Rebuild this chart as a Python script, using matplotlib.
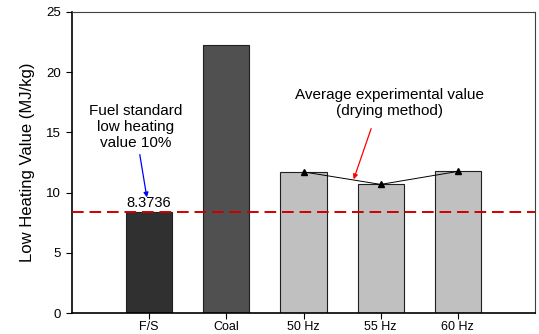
import matplotlib.pyplot as plt
import numpy as np

plt.rcParams['font.family'] = ['Liberation Sans', 'DejaVu Sans']

labels = ['F/S', 'Coal', '50 Hz', '55 Hz', '60 Hz']
values = [8.3736, 22.25, 11.72, 10.68, 11.76]
colors = ['#303030', '#505050', '#c0c0c0', '#c0c0c0', '#c0c0c0']
standard = 8.3736

fig = plt.figure(figsize=(5.39, 3.34), dpi=100)
ax = fig.add_axes([72/539, 1-313/334, (535-72)/539, (313-12)/334])

x = np.arange(1, len(labels)+1)
ax.bar(x, values, width=0.6, color=colors, edgecolor='#202020', linewidth=0.8, zorder=2)

# experimental average markers
ax.plot(x[2:], values[2:], color='black', linewidth=0.7, marker='^', markersize=5, zorder=3)

ax.axhline(standard, color='#cc0000', linestyle=(0, (6, 3)), linewidth=1.4, zorder=4)

ax.set_xlim(0, 6)
ax.set_ylim(0, 25)
ax.set_xticks(x)
ax.set_xticklabels(labels, fontsize=9)
ax.set_yticks(np.arange(0, 26, 5))
ax.tick_params(axis='y', labelsize=9.5, direction='out', length=4, pad=4)
ax.tick_params(axis='x', direction='out', length=4, pad=2)
ax.set_ylabel('Low Heating Value (MJ/kg)', fontsize=12, labelpad=8)

for s in ['top', 'right']:
    ax.spines[s].set_color('#404040')
    ax.spines[s].set_linewidth(0.8)
ax.spines['bottom'].set_linewidth(1.2)
ax.spines['left'].set_linewidth(1.2)

ax.text(1, standard + 0.15, '8.3736', ha='center', va='bottom', fontsize=10.5)

ax.annotate('Fuel standard\nlow heating\nvalue 10%', xy=(0.97, 9.6), xytext=(0.82, 13.5),
            ha='center', va='bottom', fontsize=11, linespacing=1.2,
            arrowprops=dict(arrowstyle='-|>', color='blue', lw=0.9,
                            mutation_scale=7, shrinkA=1, shrinkB=0))

ax.annotate('Average experimental value\n(drying method)', xy=(3.65, 11.1), xytext=(4.12, 16.2),
            ha='center', va='bottom', fontsize=11, linespacing=1.2,
            arrowprops=dict(arrowstyle='-|>', color='red', lw=0.9,
                            mutation_scale=7, shrinkA=6, shrinkB=0,
                            relpos=(0.42, 0)))

fig.savefig('out.png', dpi=100)
